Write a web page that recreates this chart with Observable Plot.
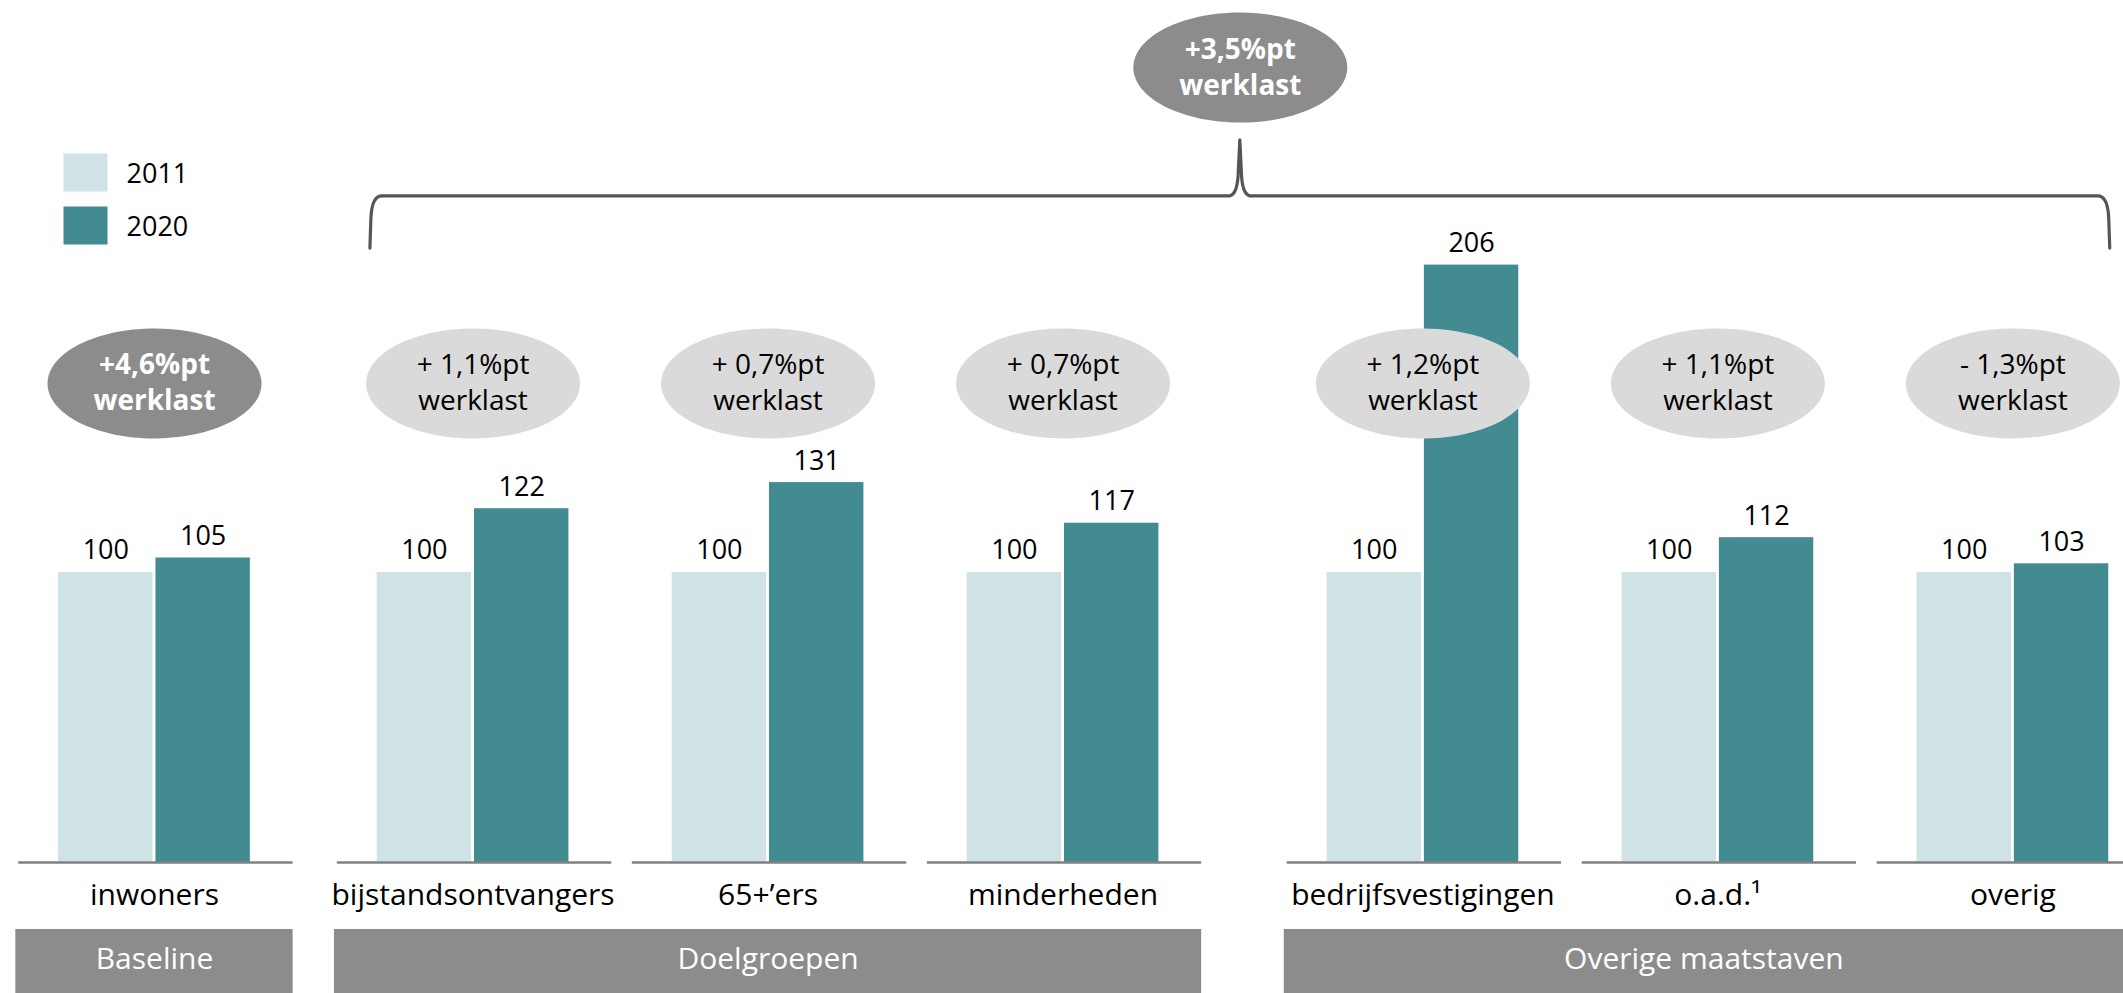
<!DOCTYPE html>
<html><head><meta charset="utf-8">
<script src="https://cdn.jsdelivr.net/npm/d3@7"></script>
<script src="https://cdn.jsdelivr.net/npm/@observablehq/plot@0.6"></script>
<style>html,body{margin:0;padding:0;background:#fff;overflow:hidden}</style>
</head><body><div id="chart"></div>
<script>
// ---- data ----
const categories = ["inwoners","bijstandsontvangers","65+\u2019ers","minderheden","bedrijfsvestigingen","o.a.d.\u00b9","overig"];
const groups = ["Baseline","Doelgroepen","Doelgroepen","Doelgroepen","Overige maatstaven","Overige maatstaven","Overige maatstaven"];
const years = ["2011","2020"];
const values2011 = [100,100,100,100,100,100,100];
const values2020 = [105,122,131,117,206,112,103];
const workloadLabels = ["+4,6%pt","+ 1,1%pt","+ 0,7%pt","+ 0,7%pt","+ 1,2%pt","+ 1,1%pt","- 1,3%pt"];
const workloadHighlight = [true,false,false,false,false,false,false];
const totalLabel = "+3,5%pt";
const werklast = "werklast";
const colors = ["#cfe2e6","#418b91"];

// ---- layout ----
const W = 2123, H = 993;
const FONT = "'Open Sans', sans-serif";
const groupOffset = {"Baseline":0, "Doelgroepen":0.08, "Overige maatstaven":0.3};
const pos = categories.map((c,i)=> i + groupOffset[groups[i]]);
const xDomain = [-0.522, 6.675];
const yMax = 297.24;
const ellipseRow = 165.2, totalRow = 274.1;
const braceTop = 229.7, braceBottom = 211.7, braceTip = 249;
const bandTop = -23.1, bandBottom = -48;
const lineGap = 18;

const cats = categories.map((c,i)=>({cat:c, pos:pos[i], group:groups[i], label:workloadLabels[i], highlight:workloadHighlight[i]}));
const bars = categories.flatMap((c,i)=>[
  {cat:c, year:years[0], value:values2011[i], x1:pos[i]-0.325, x2:pos[i]-0.005},
  {cat:c, year:years[1], value:values2020[i], x1:pos[i]+0.005, x2:pos[i]+0.325}
]);
const groupNames = Array.from(new Set(groups));
const groupRows = groupNames.map(g=>{
  const ps = cats.filter(d=>d.group===g).map(d=>d.pos);
  const x1 = d3.min(ps)-0.47, x2 = Math.min(d3.max(ps)+0.47, xDomain[1]);
  return {group:g, x1, x2, xc:(x1+x2)/2};
});
const braceX1 = pos[1]-0.348, braceX2 = pos[6]+0.33, braceMid = (braceX1+braceX2)/2;

function ellipseSymbol(rx, ry){
  const k = 0.5523;
  return {draw(ctx){
    ctx.moveTo(rx,0);
    ctx.bezierCurveTo(rx,k*ry,k*rx,ry,0,ry);
    ctx.bezierCurveTo(-k*rx,ry,-rx,k*ry,-rx,0);
    ctx.bezierCurveTo(-rx,-k*ry,-k*rx,-ry,0,-ry);
    ctx.bezierCurveTo(k*rx,-ry,rx,-k*ry,rx,0);
    ctx.closePath();
  }};
}
function rectSymbol(w, h){
  return {draw(ctx){ ctx.rect(-w/2,-h/2,w,h); }};
}
const ell = ellipseSymbol(107, 55);

function braceMark(index, scales){
  const x = scales.x, y = scales.y;
  const xa = x(braceX1), xb = x(braceX2), xm = x(braceMid);
  const yT = y(braceTop), yB = y(braceBottom), yS = y(braceTip);
  const p = d3.path();
  p.moveTo(xa, yB);
  p.lineTo(xa+1, yT+22);
  p.quadraticCurveTo(xa+2, yT, xa+12, yT);
  p.lineTo(xm-10, yT);
  p.quadraticCurveTo(xm-2, yT-2, xm-1.5, yT-25);
  p.lineTo(xm, yS);
  p.lineTo(xm+1.5, yT-25);
  p.quadraticCurveTo(xm+2, yT-2, xm+10, yT);
  p.lineTo(xb-12, yT);
  p.quadraticCurveTo(xb-2, yT, xb-1, yT+22);
  p.lineTo(xb, yB);
  return d3.create("svg:path").attr("d", p.toString()).attr("fill","none")
    .attr("stroke","#555555").attr("stroke-width",3.2).attr("stroke-linejoin","round").attr("stroke-linecap","round").node();
}

function bubbleText(data, xOpt, yVal, first, bold, fill){
  const common = {x:xOpt, y:yVal, lineAnchor:"middle", fontSize:28, fill, fontFamily:FONT, fontWeight: bold ? "bold" : "normal"};
  return [
    Plot.text(data, {...common, text:first, dy:-lineGap}),
    Plot.text(data, {...common, text:()=>werklast, dy:lineGap})
  ];
}

const legendMarks = years.flatMap((yr,i)=>[
  Plot.dot([yr], {frameAnchor:"top-left", dx:85, dy:172+i*53, symbol:rectSymbol(44,38), fill:colors[i], stroke:null}),
  Plot.text([yr], {frameAnchor:"top-left", dx:126, dy:174+i*53, text:d=>d, textAnchor:"start", lineAnchor:"middle", fontSize:27, fill:"#000", fontFamily:FONT})
]);

const hi = cats.filter(d=>d.highlight), lo = cats.filter(d=>!d.highlight);

const chart = Plot.plot({
  width: W, height: H,
  marginTop: 0, marginBottom: 131, marginLeft: 0, marginRight: 0,
  style: {fontFamily: FONT, background: "#fff"},
  x: {type:"linear", domain:xDomain, axis:null},
  y: {domain:[0,yMax], axis:null},
  color: {domain:years, range:colors},
  marks: [
    Plot.rectY(bars, {x1:"x1", x2:"x2", y1:0, y2:"value", fill:"year"}),
    Plot.ruleY(cats, {y:0, x1:d=>d.pos-0.46, x2:d=>d.pos+0.47, stroke:"#808080", strokeWidth:2.5}),
    Plot.text(bars, {x:d=>(d.x1+d.x2)/2, y:"value", text:d=>String(d.value), dy:-13, lineAnchor:"bottom", fontSize:27, fill:"#000", fontFamily:FONT}),
    Plot.text(cats, {x:"pos", y:0, text:"cat", dy:33, lineAnchor:"middle", fontSize:30, fill:"#000", fontFamily:FONT}),
    Plot.rect(groupRows, {x1:"x1", x2:"x2", y1:bandTop, y2:bandBottom, fill:"#8c8c8c"}),
    Plot.text(groupRows, {x:"xc", y:(bandTop+bandBottom)/2+2, text:"group", lineAnchor:"middle", fontSize:30, fill:"#fff", fontFamily:FONT}),
    braceMark,
    Plot.dot(hi, {x:"pos", y:ellipseRow, symbol:ell, fill:"#8c8c8c", stroke:null}),
    Plot.dot(lo, {x:"pos", y:ellipseRow, symbol:ell, fill:"#dadada", stroke:null}),
    ...bubbleText(hi, "pos", ellipseRow, "label", true, "#fff"),
    ...bubbleText(lo, "pos", ellipseRow, "label", false, "#000"),
    Plot.dot([totalLabel], {x:braceMid, y:totalRow, symbol:ell, fill:"#8c8c8c", stroke:null}),
    ...bubbleText([totalLabel], braceMid, totalRow, d=>d, true, "#fff"),
    ...legendMarks
  ]
});
document.getElementById("chart").appendChild(chart);
</script>
</body></html>
